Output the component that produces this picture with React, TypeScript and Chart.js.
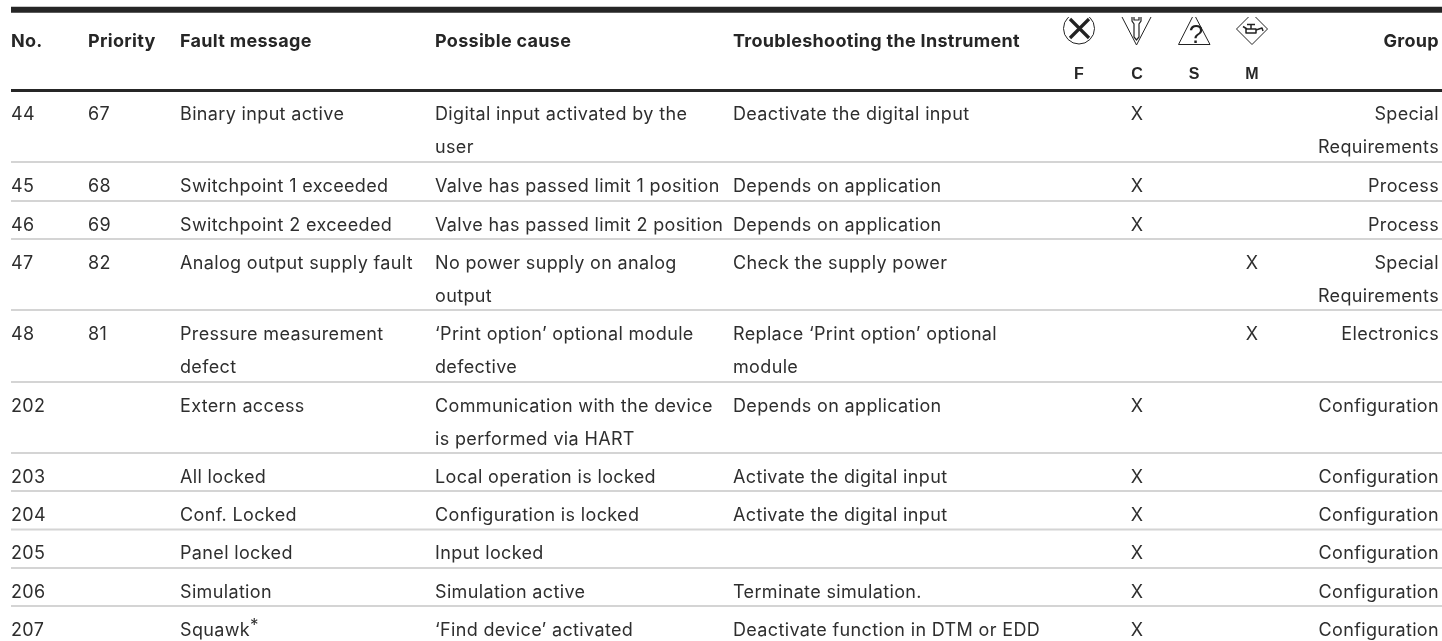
import React, { useEffect, useRef } from "react";
import { Chart, registerables } from "chart.js";

Chart.register(...registerables);

const headers = ["No.", "Priority", "Fault message", "Possible cause", "Troubleshooting the Instrument"];
const classLetters = ["F", "C", "S", "M"];
const groupHeader = "Group";

const numbers = ["44", "45", "46", "47", "48", "202", "203", "204", "205", "206", "207"];
const priorities = ["67", "68", "69", "82", "81", "", "", "", "", "", ""];
const faultMessages = [
  ["Binary input active"],
  ["Switchpoint 1 exceeded"],
  ["Switchpoint 2 exceeded"],
  ["Analog output supply fault"],
  ["Pressure measurement", "defect"],
  ["Extern access"],
  ["All locked"],
  ["Conf. Locked"],
  ["Panel locked"],
  ["Simulation"],
  ["Squawk"],
];
const causes = [
  ["Digital input activated by the", "user"],
  ["Valve has passed limit 1 position"],
  ["Valve has passed limit 2 position"],
  ["No power supply on analog", "output"],
  ["‘Print option’ optional module", "defective"],
  ["Communication with the device", "is performed via HART"],
  ["Local operation is locked"],
  ["Configuration is locked"],
  ["Input locked"],
  ["Simulation active"],
  ["‘Find device’ activated"],
];
const remedies = [
  ["Deactivate the digital input"],
  ["Depends on application"],
  ["Depends on application"],
  ["Check the supply power"],
  ["Replace ‘Print option’ optional", "module"],
  ["Depends on application"],
  ["Activate the digital input"],
  ["Activate the digital input"],
  [""],
  ["Terminate simulation."],
  ["Deactivate function in DTM or EDD"],
];
const classMarks = ["C", "C", "C", "M", "M", "C", "C", "C", "C", "C", "C"];
const groups = [
  ["Special", "Requirements"],
  ["Process"],
  ["Process"],
  ["Special", "Requirements"],
  ["Electronics"],
  ["Configuration"],
  ["Configuration"],
  ["Configuration"],
  ["Configuration"],
  ["Configuration"],
  ["Configuration"],
];

const W = 1442;
const H = 641;
const colX = [11, 88, 180, 435, 733];
const classX: Record<string, number> = { F: 1079, C: 1137, S: 1194, M: 1252 };
const groupRight = 1439;
const FONT = '"Inter"';
const BODY = "#2e2e2e";
const HEAD = "#262626";
const rowTops = [90.5, 162, 201, 239, 310, 382, 453, 491, 529.5, 568, 606];
const rules = rowTops.slice(1);

const tablePlugin = {
  id: "table",
  afterDatasetsDraw(chart: any) {
    const { ctx, scales } = chart;
    const X = (v: number) => scales.x.getPixelForValue(v);
    const Y = (v: number) => scales.y.getPixelForValue(v);
    ctx.save();
    ctx.textBaseline = "middle";

    ctx.fillStyle = HEAD;
    ctx.font = `700 18px ${FONT}`;
    ctx.letterSpacing = "0.3px";
    ctx.textAlign = "left";
    headers.forEach((h, i) => ctx.fillText(h, X(colX[i]), Y(41.5)));
    ctx.textAlign = "right";
    ctx.fillText(groupHeader, X(groupRight), Y(41.5));
    ctx.letterSpacing = "0px";
    ctx.textAlign = "center";
    ctx.font = `700 16px "Liberation Sans"`;
    classLetters.forEach((l) => ctx.fillText(l, X(classX[l]), Y(75)));

    ctx.fillStyle = BODY;
    ctx.font = `400 18px ${FONT}`;
    ctx.letterSpacing = "0.35px";
    numbers.forEach((_, i) => {
      const y0 = rowTops[i] + 24.3;
      const lineY = (n: number) => Y(y0 + n * 33);
      ctx.textAlign = "left";
      ctx.fillText(numbers[i], X(colX[0]), lineY(0));
      ctx.fillText(priorities[i], X(colX[1]), lineY(0));
      faultMessages[i].forEach((t, n) => ctx.fillText(t, X(colX[2]), lineY(n)));
      causes[i].forEach((t, n) => ctx.fillText(t, X(colX[3]), lineY(n)));
      remedies[i].forEach((t, n) => ctx.fillText(t, X(colX[4]), lineY(n)));
      if (faultMessages[i][0] === "Squawk") {
        const w = ctx.measureText("Squawk").width;
        ctx.font = `400 17px ${FONT}`;
        ctx.fillText("*", X(colX[2]) + w, lineY(0) - 4);
        ctx.font = `400 18px ${FONT}`;
      }
      ctx.textAlign = "center";
      ctx.fillText("X", X(classX[classMarks[i]]), lineY(0));
      ctx.textAlign = "right";
      groups[i].forEach((t, n) => ctx.fillText(t, X(groupRight), lineY(n)));
    });
    ctx.letterSpacing = "0px";

    // hazard symbols, clipped at their top as in the source
    ctx.beginPath();
    ctx.rect(X(1050), Y(17), X(1290) - X(1050), Y(50) - Y(17));
    ctx.clip();
    ctx.strokeStyle = "#222";
    ctx.lineCap = "butt";
    ctx.lineWidth = 1;
    ctx.beginPath();
    ctx.arc(X(1079), Y(28.5), 15.5, 0, Math.PI * 2);
    ctx.stroke();
    ctx.lineWidth = 3.2;
    ctx.beginPath();
    ctx.moveTo(X(1070), Y(19));
    ctx.lineTo(X(1089), Y(38));
    ctx.moveTo(X(1089), Y(19));
    ctx.lineTo(X(1070), Y(38));
    ctx.stroke();
    ctx.lineWidth = 1;
    ctx.beginPath();
    ctx.moveTo(X(1122), Y(17));
    ctx.lineTo(X(1136.5), Y(45));
    ctx.lineTo(X(1151), Y(17));
    ctx.stroke();
    ctx.lineWidth = 1.2;
    ctx.beginPath();
    ctx.moveTo(X(1132), Y(16));
    ctx.lineTo(X(1132), Y(21));
    ctx.lineTo(X(1134), Y(24));
    ctx.lineTo(X(1134), Y(37));
    ctx.lineTo(X(1136.5), Y(40));
    ctx.lineTo(X(1139), Y(37));
    ctx.lineTo(X(1139), Y(24));
    ctx.lineTo(X(1141), Y(21));
    ctx.lineTo(X(1141), Y(16));
    ctx.stroke();
    ctx.beginPath();
    ctx.moveTo(X(1134), Y(16));
    ctx.lineTo(X(1134), Y(20));
    ctx.lineTo(X(1139), Y(20));
    ctx.lineTo(X(1139), Y(16));
    ctx.stroke();
    ctx.lineWidth = 1;
    ctx.beginPath();
    ctx.moveTo(X(1178.5), Y(44.5));
    ctx.lineTo(X(1194), Y(14));
    ctx.lineTo(X(1210), Y(44.5));
    ctx.closePath();
    ctx.stroke();
    ctx.fillStyle = "#222";
    ctx.font = `400 26px "Liberation Sans"`;
    ctx.textAlign = "center";
    ctx.fillText("?", X(1196), Y(35.5));
    ctx.lineJoin = "round";
    ctx.beginPath();
    ctx.moveTo(X(1236.5), Y(29));
    ctx.lineTo(X(1252), Y(13.5));
    ctx.lineTo(X(1267.5), Y(29));
    ctx.lineTo(X(1252), Y(44.5));
    ctx.closePath();
    ctx.stroke();
    ctx.lineWidth = 1.5;
    ctx.strokeRect(X(1246), Y(29), 10, 4);
    ctx.beginPath();
    ctx.moveTo(X(1243), Y(26.5));
    ctx.lineTo(X(1247), Y(29));
    ctx.moveTo(X(1251), Y(24));
    ctx.lineTo(X(1251), Y(29));
    ctx.moveTo(X(1247), Y(24.5));
    ctx.lineTo(X(1255), Y(24.5));
    ctx.moveTo(X(1256), Y(30));
    ctx.lineTo(X(1262), Y(28));
    ctx.lineTo(X(1263), Y(31));
    ctx.stroke();
    ctx.restore();
  },
};

export default function App() {
  const ref = useRef<HTMLCanvasElement>(null);
  useEffect(() => {
    const hline = (y: number, color: string, width: number) => ({
      type: "line" as const,
      data: [
        { x: 11, y },
        { x: W, y },
      ],
      borderColor: color,
      borderWidth: width,
      pointRadius: 0,
    });
    const chart = new Chart(ref.current!, {
      type: "line",
      data: {
        datasets: [
          hline(9.8, "#262626", 6),
          hline(90.5, "#262626", 3),
          ...rules.map((y) => hline(y, "#d4d4d4", 2)),
        ],
      },
      options: {
        animation: false,
        responsive: false,
        maintainAspectRatio: false,
        layout: { padding: 0 },
        plugins: { legend: { display: false }, tooltip: { enabled: false } },
        scales: {
          x: { type: "linear", min: 0, max: W, display: false },
          y: { type: "linear", min: 0, max: H, reverse: true, display: false },
        },
      },
      plugins: [tablePlugin],
    });
    return () => chart.destroy();
  }, []);
  return (
    <div style={{ position: "fixed", left: 0, top: 0, width: W, height: H, background: "#fff" }}>
      <canvas ref={ref} width={W} height={H} style={{ display: "block" }} />
    </div>
  );
}
